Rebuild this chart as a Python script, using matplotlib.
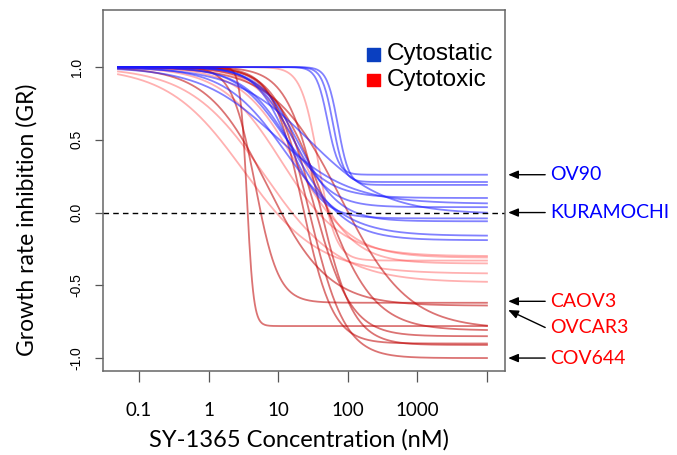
import numpy as np
import matplotlib
matplotlib.use('Agg')
import matplotlib.pyplot as plt

# ── fitted GR curves: GR(c) = GRinf + (1 - GRinf) / (1 + (c / GEC50)^h) ─────
# cytostatic (blue)
blue_grinf = [0.26, 0.21, 0.19, 0.10, 0.06, 0.037, -0.01, -0.04, -0.06, -0.16, -0.19]
blue_logec = [1.71, 1.79, 1.86, 1.05, 0.95, 1.20, 1.45, 1.15, 1.30, 1.10, 1.25]
blue_hill  = [5.5, 5.5, 5.5, 1.3, 0.8, 1.6, 0.8, 1.8, 1.5, 1.0, 1.2]
# cytotoxic, dark red
dark_grinf = [-0.78, -0.62, -0.64, -0.80, -0.81, -0.85, -0.90, -0.91, -1.00]
dark_logec = [0.55, 0.67, 0.85, 1.90, 1.65, 1.50, 1.35, 1.60, 1.45]
dark_hill  = [9.0, 2.6, 1.0, 0.9, 1.2, 1.6, 2.0, 1.8, 1.7]
# cytotoxic, light red
pink_grinf = [-0.33, -0.31, -0.30, -0.35, -0.42, -0.48]
pink_logec = [1.58, 1.25, 1.05, 1.40, 0.50, 0.80]
pink_hill  = [3.5, 1.1, 1.0, 1.3, 0.8, 0.8]

# labelled cell lines on the right
lines_names  = ['OV90', 'KURAMOCHI', 'CAOV3', 'OVCAR3', 'COV644']
lines_gr     = [0.26, 0.0, -0.61, -0.67, -1.0]
lines_text_y = [0.26, 0.0, -0.61, -0.79, -1.0]
lines_color  = ['#0000FF', '#0000FF', '#FF0000', '#FF0000', '#FF0000']

xticks = [0.1, 1, 10, 100, 1000, 10000]
xtick_labels = ['0.1', '1', '10', '100', '1000', '']
yticks = [-1.0, -0.5, 0.0, 0.5, 1.0]

conc = np.logspace(np.log10(0.05), 4, 400)

def gr(c, ginf, logec, h):
    return ginf + (1 - ginf) / (1 + (c / 10 ** logec) ** h)

fig = plt.figure(figsize=(6.77, 4.55), dpi=100)
ax = fig.add_axes([0.1521, 0.1846, 0.5938, 0.7934])

for g, e, h in zip(pink_grinf, pink_logec, pink_hill):
    ax.plot(conc, gr(conc, g, e, h), color=(1, 0.2, 0.2), alpha=0.38, lw=1.3)
for g, e, h in zip(dark_grinf, dark_logec, dark_hill):
    ax.plot(conc, gr(conc, g, e, h), color=(0.75, 0.0, 0.0), alpha=0.55, lw=1.3)
for g, e, h in zip(blue_grinf, blue_logec, blue_hill):
    ax.plot(conc, gr(conc, g, e, h), color=(0.1, 0.1, 1.0), alpha=0.55, lw=1.3)

ax.axhline(0, color='black', lw=1.0, ls=(0, (4, 3)))

ax.set_xscale('log')
ax.set_xlim(10 ** -1.517, 10 ** 4.259)
ax.set_ylim(-1.089, 1.392)
ax.set_xticks(xticks)
ax.set_xticklabels(xtick_labels, family='Lato', fontsize=13.5)
ax.minorticks_off()
ax.set_yticks(yticks)
ax.set_yticklabels([f'{v:.1f}' for v in yticks], family='Liberation Sans',
                   fontsize=10, rotation=90, va='center')
ax.tick_params(axis='x', length=8, width=0.9, color='#555555', pad=14)
ax.tick_params(axis='y', length=6, width=0.9, color='#555555', pad=8)
for sp in ax.spines.values():
    sp.set_color('#666666'); sp.set_linewidth(1.1)

ax.set_xlabel('SY-1365 Concentration (nM)', family='Lato', fontsize=17, va='center')
ax.xaxis.set_label_coords(0.4876, -0.191)
ax.set_ylabel('Growth rate inhibition (GR)', family='Lato', fontsize=16.5,
              va='center', ha='center')
ax.yaxis.set_label_coords(-0.19, 0.42)

# legend
ax.scatter([0.673, 0.673], [0.877, 0.806], marker='s', s=80,
           c=['#0A3FC0', '#FF0000'], transform=ax.transAxes, clip_on=False)
ax.text(0.705, 0.877, 'Cytostatic', transform=ax.transAxes, va='center',
        family='Liberation Sans', fontsize=17.5)
ax.text(0.705, 0.806, 'Cytotoxic', transform=ax.transAxes, va='center',
        family='Liberation Sans', fontsize=17.5)

# right-hand labels with arrows
trans = ax.get_yaxis_transform()
for name, gy, ty, col in zip(lines_names, lines_gr, lines_text_y, lines_color):
    ax.annotate('', xy=(1.008, gy), xycoords=trans,
                xytext=(1.10, ty), textcoords=trans, annotation_clip=False,
                arrowprops=dict(arrowstyle='-|>,head_length=0.6,head_width=0.25',
                                color='black', lw=1.0, shrinkA=0, shrinkB=0))
    ax.text(1.112, ty, name, transform=trans, color=col, va='center',
            family='Lato', fontsize=14)

fig.savefig('out.png', dpi=100)
